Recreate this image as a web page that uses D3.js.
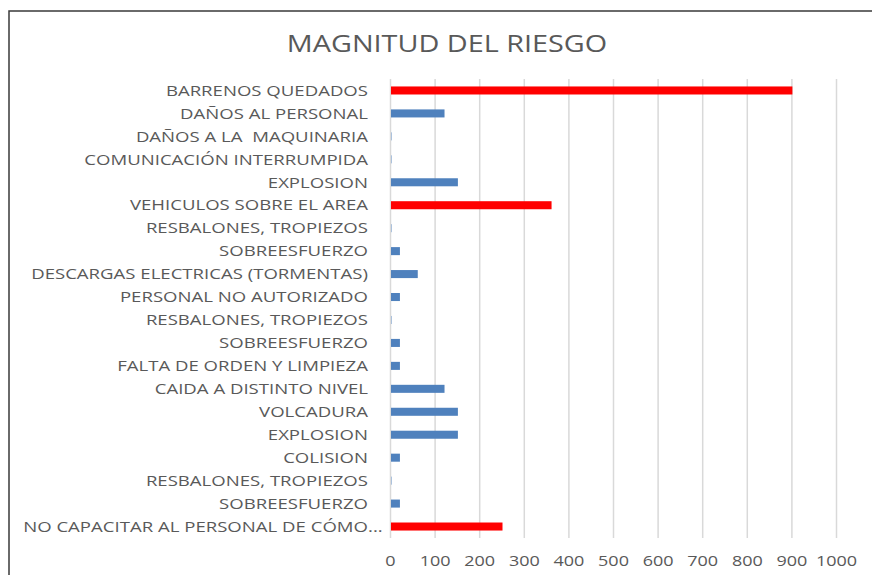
<!DOCTYPE html>
<html>
<head>
<meta charset="utf-8">
<script src="https://cdn.jsdelivr.net/npm/d3@7"></script>
<style>
  body { margin: 0; background: #fff; }
  text { font-family: "Open Sans", sans-serif; fill: #595959; white-space: pre; }
</style>
</head>
<body>
<svg id="chart" width="872" height="575"></svg>
<script>
// Categories, top to bottom as shown
const categories = [
  "BARRENOS QUEDADOS",
  "DAÑOS AL PERSONAL",
  "DAÑOS A LA  MAQUINARIA",
  "COMUNICACIÓN INTERRUMPIDA",
  "EXPLOSION",
  "VEHICULOS SOBRE EL AREA",
  "RESBALONES, TROPIEZOS",
  "SOBREESFUERZO",
  "DESCARGAS ELECTRICAS (TORMENTAS)",
  "PERSONAL NO AUTORIZADO",
  "RESBALONES, TROPIEZOS ",
  "SOBREESFUERZO ",
  "FALTA DE ORDEN Y LIMPIEZA",
  "CAIDA A DISTINTO NIVEL",
  "VOLCADURA",
  "EXPLOSION ",
  "COLISION",
  "RESBALONES, TROPIEZOS  ",
  "SOBREESFUERZO  ",
  "NO CAPACITAR AL PERSONAL DE CÓMO..."
];
const values = [900, 120, 1, 1, 150, 360, 1, 20, 60, 20, 1, 20, 20, 120, 150, 150, 20, 1, 20, 250];
// high-magnitude items drawn in red
const highRisk = [true, false, false, false, false, true, false, false, false, false,
                  false, false, false, false, false, false, false, false, false, true];
const xTicks = [0, 100, 200, 300, 400, 500, 600, 700, 800, 900, 1000];

const svg = d3.select("#chart");
// the source text is set wide, so glyphs get stretched horizontally
const stretch = 1.2;
const labelStretch = 1.24;

// outer chart border (right and bottom fall outside the window)
svg.append("rect")
  .attr("x", 9).attr("y", 11)
  .attr("width", 900).attr("height", 600)
  .attr("fill", "none")
  .attr("stroke", "#3a3a3a")
  .attr("stroke-width", 1.5);

svg.append("text")
  .attr("transform", `translate(447,52) scale(${stretch},1)`)
  .attr("text-anchor", "middle")
  .style("font-size", "24px")
  .text("MAGNITUD DEL RIESGO");

const x = d3.scaleLinear().domain([0, 1000]).range([390.5, 836.5]);
const y = d3.scaleBand().domain(categories).range([79, 538])
  .paddingInner(0.65).paddingOuter(0.325);

// gridlines
svg.append("g").selectAll("line")
  .data(xTicks)
  .join("line")
  .attr("x1", d => x(d)).attr("x2", d => x(d))
  .attr("y1", 79).attr("y2", 538)
  .attr("stroke", "#d9d9d9")
  .attr("stroke-width", 1.5);

// bars
svg.append("g").selectAll("rect")
  .data(categories)
  .join("rect")
  .attr("x", x(0) + 0.5)
  .attr("y", d => y(d))
  .attr("height", y.bandwidth())
  .attr("width", (d, i) => x(values[i]) - x(0))
  .attr("fill", (d, i) => highRisk[i] ? "#ff0000" : "#4f81bd");

// category labels
const labels = svg.append("g").selectAll("text")
  .data(categories)
  .join("text")
  .attr("transform", d => `translate(368,${y(d) + y.bandwidth() / 2}) scale(${labelStretch},1)`)
  .attr("dy", "0.35em")
  .attr("text-anchor", "end")
  .style("font-size", "15px")
  .text(d => (d.endsWith("...") ? d.slice(0, -3) : d).trimEnd());

// truncated label: the ellipsis hangs past the label edge
labels.filter(d => d.endsWith("...")).each(function(d) {
  svg.append("text")
    .attr("transform", `translate(368,${y(d) + y.bandwidth() / 2}) scale(${labelStretch},1)`)
    .attr("dy", "0.35em")
    .style("font-size", "15px")
    .text("...");
});

// x tick labels
svg.append("g").selectAll("text")
  .data(xTicks)
  .join("text")
  .attr("transform", d => `translate(${x(d)},566) scale(${stretch},1)`)
  .attr("text-anchor", "middle")
  .style("font-size", "15px")
  .text(d => d);
</script>
</body>
</html>
